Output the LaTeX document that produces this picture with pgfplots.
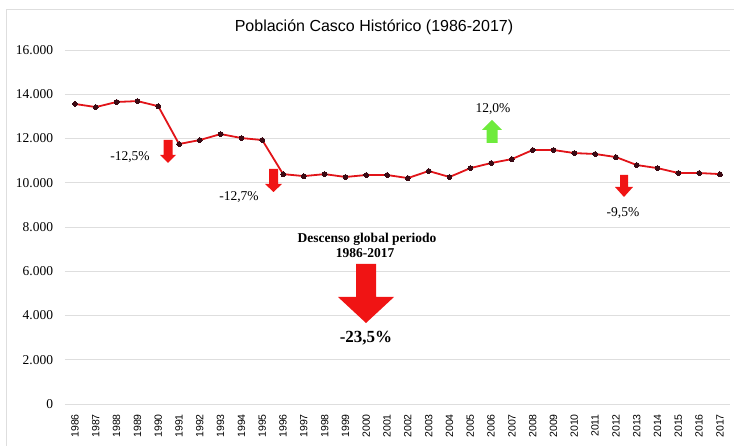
\documentclass[border=0pt]{standalone}
\usepackage{fontspec}
\setmainfont{Liberation Serif}
\newfontfamily\arial{Liberation Sans}
\usepackage{pgfplots}
\pgfplotsset{compat=1.18}
\definecolor{linered}{RGB}{225,20,25}
\definecolor{arrred}{RGB}{240,20,20}
\definecolor{arrgreen}{RGB}{110,235,60}
\definecolor{markdark}{RGB}{60,10,20}
\definecolor{gridgray}{RGB}{222,222,222}
\begin{document}
\begin{tikzpicture}[x=1pt,y=1pt]
\useasboundingbox (0,0) rectangle (734,446);
\draw[gridgray, line width=1pt] (6,-10) rectangle (760,436);
\node[font=\arial\fontsize{16}{18}\selectfont] at (374,419) {Población Casco Histórico (1986-2017)};
\begin{axis}[
  at={(64.6pt,42pt)}, anchor=south west,
  scale only axis, width=665.8pt, height=354pt,
  xmin=1985.5, xmax=2017.5, ymin=0, ymax=16000,
  xtick={1986,...,2017}, ytick={0,2000,...,16000},
  scaled y ticks=false,
  axis line style={draw=none},
  major tick length=0pt,
  ymajorgrids, grid style={gridgray, line width=0.8pt},
  /pgf/number format/assume math mode=true,
  yticklabel style={font=\fontsize{13.5}{15}\selectfont, /pgf/number format/1000 sep={.}, /pgf/number format/fixed},
  xticklabel style={font=\arial\fontsize{10.5}{12}\selectfont, rotate=90, anchor=east, inner sep=1pt, /pgf/number format/1000 sep={}},
  yticklabel shift=8pt,
  xticklabel shift=9pt,
  clip=false,
]
\addplot[linered, line width=1.8pt, mark=*, mark size=2.4pt, mark options={fill=markdark, draw=markdark, line width=0pt}] coordinates {
(1986,13560) (1987,13420) (1988,13650) (1989,13690) (1990,13460)
(1991,11750) (1992,11930) (1993,12200) (1994,12020) (1995,11930)
(1996,10390) (1997,10300) (1998,10390) (1999,10260) (2000,10350)
(2001,10350) (2002,10210) (2003,10530) (2004,10260) (2005,10660)
(2006,10890) (2007,11070) (2008,11480) (2009,11480) (2010,11340)
(2011,11300) (2012,11160) (2013,10800) (2014,10660) (2015,10440)
(2016,10440) (2017,10390)
};
\end{axis}
% annotations
\fill[arrred] (163.5,306) -- (172.5,306) -- (172.5,291) -- (176,291) -- (168,283) -- (160,291) -- (163.5,291) -- cycle;
\fill[arrred] (269,277) -- (278,277) -- (278,262) -- (282,262) -- (273.5,254) -- (265,262) -- (269,262) -- cycle;
\fill[arrgreen] (486.5,303) -- (497.5,303) -- (497.5,316) -- (502,316) -- (492,326) -- (482,316) -- (486.5,316) -- cycle;
\fill[arrred] (620,271) -- (628,271) -- (628,259) -- (633,259) -- (624,249) -- (615,259) -- (620,259) -- cycle;
\fill[arrred] (356,182) -- (376,182) -- (376,149) -- (394,149) -- (366,123) -- (338,149) -- (356,149) -- cycle;
\node[font=\fontsize{13.5}{15}\selectfont] at (130,289) {-12,5\%};
\node[font=\fontsize{13.5}{15}\selectfont] at (239,249) {-12,7\%};
\node[font=\fontsize{13.5}{15}\selectfont] at (493,337) {12,0\%};
\node[font=\fontsize{13.5}{15}\selectfont] at (623,233) {-9,5\%};
\node[font=\bfseries\fontsize{13.5}{15}\selectfont] at (367,207) {Descenso global periodo};
\node[font=\bfseries\fontsize{13.5}{15}\selectfont] at (365,193) {1986-2017};
\node[font=\bfseries\fontsize{17}{19}\selectfont] at (366,108) {-23,5\%};
\end{tikzpicture}
\end{document}
